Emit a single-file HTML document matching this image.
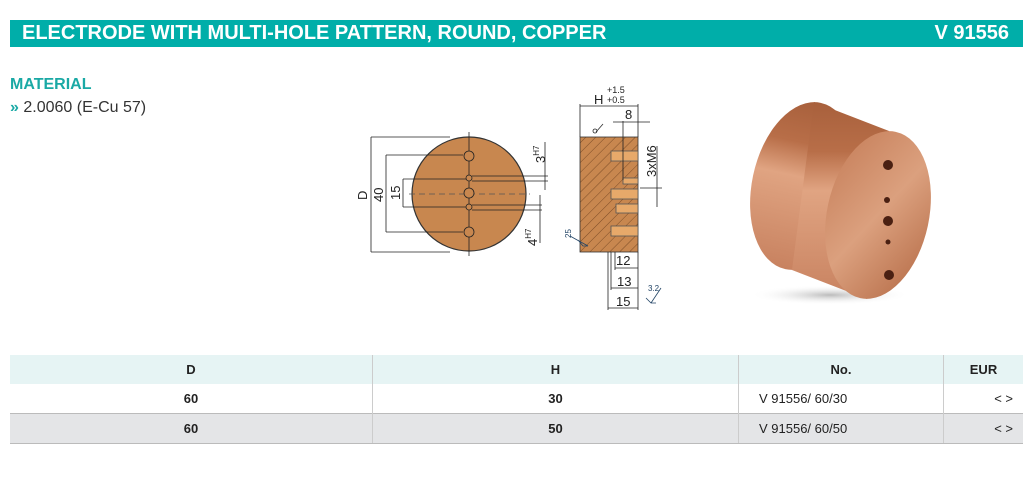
<!DOCTYPE html>
<html><head><style>
body{margin:0;width:1036px;height:482px;background:#fff;font-family:"Liberation Sans",sans-serif;position:relative;overflow:hidden}
.bar{position:absolute;left:10px;top:20px;width:1013px;height:27px;background:#00aea9;color:#fff;font-weight:bold;font-size:20px;line-height:27px}
.bar span{position:absolute;left:12px}.bar b{position:absolute;right:14px}
.mat{position:absolute;left:10px;top:76px;color:#1aa9a5;font-weight:bold;font-size:16px}
.mat2{position:absolute;left:10px;top:99px;font-size:16px;color:#333}
table{position:absolute;left:10px;top:355px;width:1013px;border-collapse:collapse;font-size:13px;color:#222}
td{height:29px;text-align:center;font-weight:bold;border-left:1px solid #ccc;padding:0}
td:first-child{border-left:none}
tr.h td{background:#e6f4f4}
tr.g td{background:#e4e5e7;border-top:1px solid #bbb;border-bottom:1px solid #bbb}
td.n{font-weight:normal;text-align:left;padding-left:20px}
td.e{font-weight:normal;text-align:right;padding-right:10px}
</style></head><body>
<div class="bar"><span>ELECTRODE WITH MULTI-HOLE PATTERN, ROUND, COPPER</span><b>V 91556</b></div>
<div class="mat">MATERIAL</div>
<div class="mat2"><span style="color:#1aa9a5;font-weight:bold">»</span> 2.0060 (E-Cu 57)</div>
<svg width="1036" height="482" style="position:absolute;left:0;top:0">
<defs>
<pattern id="h" width="7" height="7" patternUnits="userSpaceOnUse" patternTransform="rotate(45)"><rect width="7" height="7" fill="#c8874f"/><line x1="0" y1="0" x2="0" y2="7" stroke="#6b3f1c" stroke-width="0.8"/></pattern>
<linearGradient id="side" x1="0" x2="0" y1="0" y2="1"><stop offset="0" stop-color="#a8603c"/><stop offset=".25" stop-color="#b86e48"/><stop offset=".45" stop-color="#e0a482"/><stop offset="1" stop-color="#c88260"/></linearGradient>
<linearGradient id="face" x1="0" x2="1" y1="0" y2="1"><stop offset="0" stop-color="#c57d58"/><stop offset=".5" stop-color="#dba07e"/><stop offset="1" stop-color="#b46a45"/></linearGradient>
<radialGradient id="sh"><stop offset="0" stop-color="#bbb"/><stop offset="1" stop-color="#fff" stop-opacity="0"/></radialGradient>
</defs>
<ellipse cx="830" cy="295" rx="80" ry="10" fill="url(#sh)"/>
<g fill="url(#side)">
<ellipse cx="803" cy="186" rx="51" ry="85" transform="rotate(12 803 186)"/>
<polygon points="814,102 889,131 867,299 792,270"/>
</g>
<ellipse cx="878" cy="215" rx="51" ry="85" transform="rotate(12 878 215)" fill="url(#face)"/>
<g fill="#4a2012"><circle cx="888" cy="165" r="5"/><circle cx="887" cy="200" r="3"/><circle cx="888" cy="221" r="5"/><circle cx="888" cy="242" r="2.5"/><circle cx="889" cy="275" r="5"/></g>
<g stroke="#222" stroke-width="0.8" fill="none" font-size="12" font-family="Liberation Sans">
<circle cx="469" cy="194" r="57" fill="#c8874f" stroke="#333" stroke-width="1.2"/>
<line x1="409" y1="194" x2="530" y2="194" stroke-dasharray="6,4" stroke="#555"/>
<line x1="469" y1="132" x2="469" y2="256"/>
<g fill="#c8874f"><circle cx="469" cy="156" r="5"/><circle cx="469" cy="178" r="3"/><circle cx="469" cy="193" r="5"/><circle cx="469" cy="207" r="3"/><circle cx="469" cy="232" r="5"/></g>
<line x1="371" y1="137" x2="450" y2="137"/><line x1="371" y1="252" x2="450" y2="252"/><line x1="371" y1="137" x2="371" y2="252"/>
<line x1="386" y1="155" x2="463" y2="155"/><line x1="386" y1="232" x2="463" y2="232"/><line x1="386" y1="155" x2="386" y2="232"/>
<line x1="403" y1="179" x2="466" y2="179"/><line x1="403" y1="207" x2="466" y2="207"/><line x1="403" y1="179" x2="403" y2="207"/>
<line x1="472" y1="176" x2="548" y2="176"/><line x1="472" y1="181" x2="548" y2="181"/><line x1="545" y1="142" x2="545" y2="190"/>
<line x1="472" y1="205" x2="542" y2="205"/><line x1="472" y1="210" x2="542" y2="210"/><line x1="540" y1="195" x2="540" y2="243"/>
<rect x="580" y="137" width="58" height="115" fill="url(#h)" stroke="#333"/>
<g fill="#e7a96a" stroke="#555"><rect x="611" y="151" width="27" height="10"/><rect x="623" y="178" width="15" height="6"/><rect x="611" y="189" width="27" height="10"/><rect x="616" y="204" width="22" height="9"/><rect x="611" y="226" width="27" height="10"/></g>
<line x1="580" y1="104" x2="580" y2="137"/><line x1="638" y1="104" x2="638" y2="137"/><line x1="580" y1="106" x2="638" y2="106"/>
<line x1="623" y1="121" x2="623" y2="180"/><line x1="613" y1="122" x2="650" y2="122"/>
<line x1="608" y1="252" x2="608" y2="310"/><line x1="611" y1="252" x2="611" y2="290"/><line x1="615" y1="252" x2="615" y2="270"/><line x1="638" y1="252" x2="638" y2="310"/>
<line x1="615" y1="268" x2="638" y2="268"/><line x1="611" y1="288" x2="638" y2="288"/><line x1="608" y1="308" x2="638" y2="308"/>
<line x1="657" y1="146" x2="657" y2="207"/><line x1="640" y1="188" x2="662" y2="188"/>
<path d="M588 246 L570 236 M578 240 L583 246 L588 246" stroke="#246"/>
<path d="M651 303 L661 288 M646 298 L651 303 L656 303" stroke="#246"/>
<path d="M596 132 L603 124" stroke="#333"/><circle cx="595" cy="131" r="2"/>
</g>
<g font-family="Liberation Sans" font-size="13" fill="#222">
<text x="367" y="200" transform="rotate(-90 367 200)">D</text>
<text x="383" y="202" transform="rotate(-90 383 202)">40</text>
<text x="400" y="200" transform="rotate(-90 400 200)">15</text>
<text x="545" y="163" transform="rotate(-90 545 163)">3<tspan font-size="8" dy="-6">H7</tspan></text>
<text x="537" y="246" transform="rotate(-90 537 246)">4<tspan font-size="8" dy="-6">H7</tspan></text>
<text x="594" y="104">H</text><text x="607" y="93" font-size="9">+1.5</text><text x="607" y="103" font-size="9">+0.5</text>
<text x="625" y="119">8</text>
<text x="656" y="177" transform="rotate(-90 656 177)">3xM6</text>
<text x="616" y="265">12</text><text x="617" y="286">13</text><text x="616" y="306">15</text>
<text x="571" y="238" font-size="8" fill="#246" transform="rotate(-90 571 238)">25</text>
<text x="648" y="291" font-size="8" fill="#246">3.2</text>
</g>
</svg>
<table>
<tr class="h"><td style="width:362px">D</td><td style="width:365px">H</td><td style="width:204px">No.</td><td>EUR</td></tr>
<tr><td>60</td><td>30</td><td class="n">V 91556/ 60/30</td><td class="e">&lt; &gt;</td></tr>
<tr class="g"><td>60</td><td>50</td><td class="n">V 91556/ 60/50</td><td class="e">&lt; &gt;</td></tr>
</table>
</body></html>
